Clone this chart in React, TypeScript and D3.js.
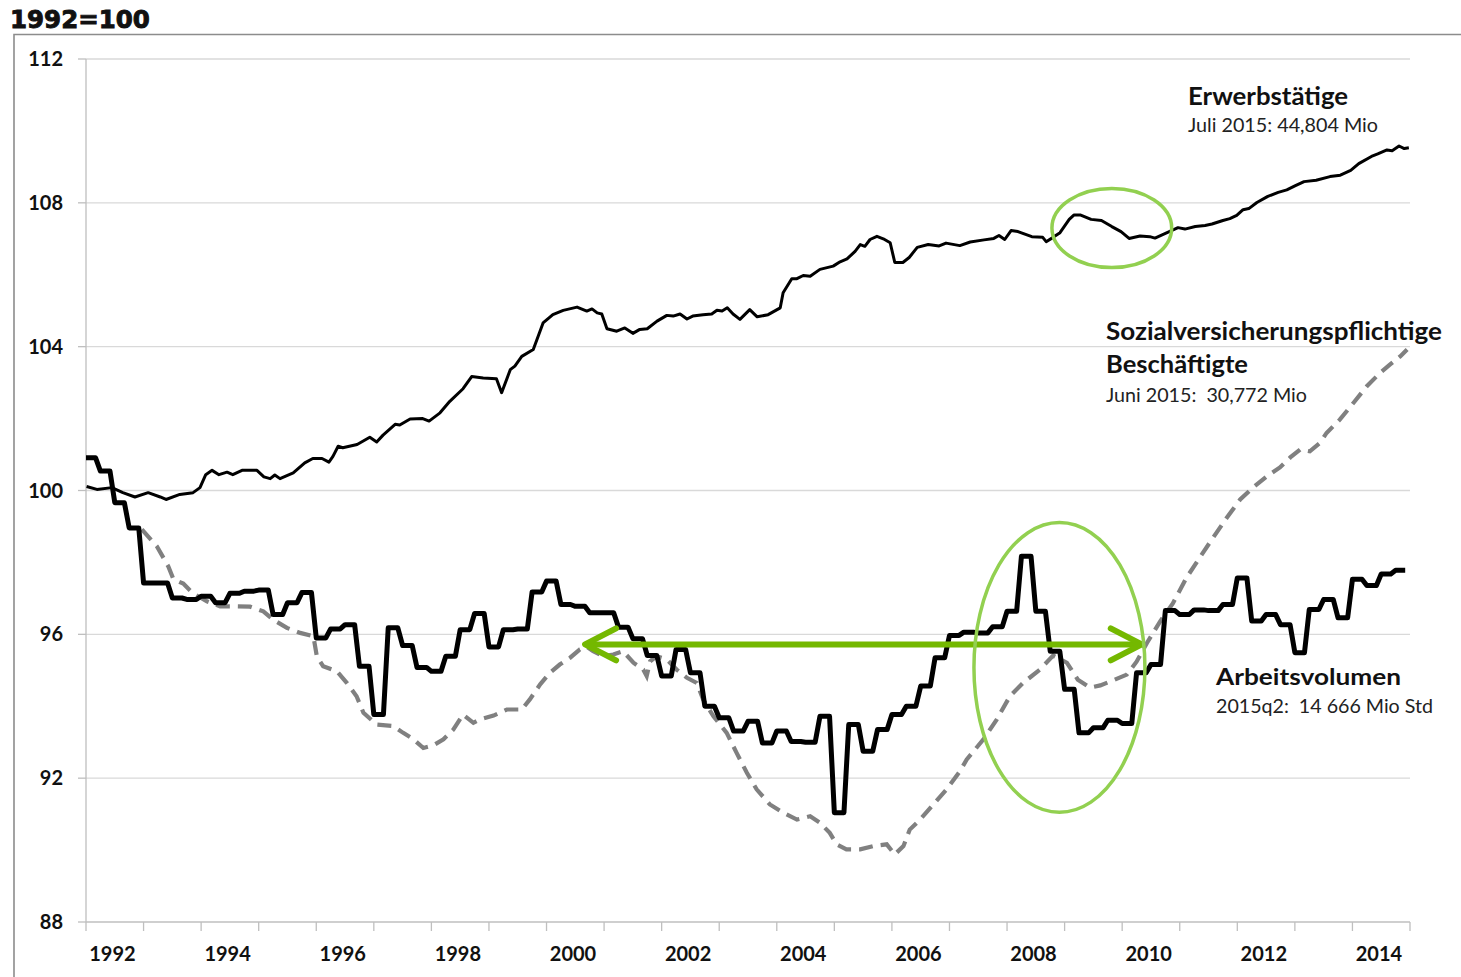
import React from "react";
import * as d3 from "d3";

const WIDTH = 1461;
const HEIGHT = 977;

// ---- axis ticks / labels ----
const yTickValues = [88, 92, 96, 100, 104, 108, 112];
const xLabelYears = [1992, 1994, 1996, 1998, 2000, 2002, 2004, 2006, 2008, 2010, 2012, 2014];
const xDomain = [1992, 2015];
const yDomain = [88, 112];

// ---- Erwerbstätige (monthly, sampled) ----
const erwYears = [
  1992.01, 1992.19, 1992.45, 1992.64, 1992.85, 1993.08, 1993.29, 1993.39, 1993.63, 1993.86,
  1993.98, 1994.08, 1994.19, 1994.31, 1994.45, 1994.55, 1994.71, 1994.97, 1995.09, 1995.2,
  1995.28, 1995.37, 1995.6, 1995.8, 1995.94, 1996.1, 1996.22, 1996.29, 1996.38, 1996.46,
  1996.71, 1996.93, 1997.05, 1997.16, 1997.37, 1997.45, 1997.63, 1997.85, 1997.96, 1998.15,
  1998.32, 1998.55, 1998.7, 1998.9, 1999.13, 1999.22, 1999.37, 1999.45, 1999.57, 1999.77,
  1999.94, 2000.11, 2000.29, 2000.53, 2000.7, 2000.79, 2000.88, 2000.96, 2001.05, 2001.22,
  2001.36, 2001.5, 2001.62, 2001.75, 2001.92, 2002.09, 2002.2, 2002.32, 2002.44, 2002.54,
  2002.72, 2002.87, 2002.96, 2003.05, 2003.14, 2003.24, 2003.36, 2003.53, 2003.66, 2003.85,
  2004.06, 2004.11, 2004.26, 2004.35, 2004.46, 2004.58, 2004.75, 2004.98, 2005.1, 2005.22,
  2005.36, 2005.45, 2005.53, 2005.62, 2005.74, 2005.85, 2005.97, 2006.05, 2006.19, 2006.3,
  2006.44, 2006.63, 2006.82, 2006.94, 2007.18, 2007.36, 2007.6, 2007.77, 2007.86, 2007.96,
  2008.07, 2008.19, 2008.43, 2008.62, 2008.68, 2008.8, 2008.92, 2009.08, 2009.16, 2009.28,
  2009.46, 2009.64, 2009.82, 2009.98, 2010.12, 2010.31, 2010.48, 2010.57, 2010.78, 2010.97,
  2011.09, 2011.27, 2011.44, 2011.56, 2011.75, 2011.87, 2011.99, 2012.1, 2012.2, 2012.34,
  2012.53, 2012.71, 2012.86, 2013.0, 2013.16, 2013.37, 2013.61, 2013.79, 2013.97, 2014.11,
  2014.33, 2014.44, 2014.6, 2014.69, 2014.81, 2014.9, 2014.98,
];
const erwValues = [
  100.11, 100.03, 100.08, 99.94, 99.82, 99.94, 99.82, 99.75, 99.89, 99.94,
  100.08, 100.44, 100.56, 100.44, 100.51, 100.44, 100.56, 100.56, 100.38, 100.33,
  100.43, 100.33, 100.49, 100.77, 100.89, 100.89, 100.79, 100.95, 101.23, 101.19,
  101.28, 101.48, 101.35, 101.54, 101.84, 101.82, 101.99, 102.0, 101.93, 102.16,
  102.48, 102.83, 103.17, 103.13, 103.11, 102.72, 103.36, 103.46, 103.73, 103.92,
  104.66, 104.89, 105.01, 105.1, 104.99, 105.05, 104.94, 104.91, 104.5, 104.43,
  104.52, 104.37, 104.48, 104.5, 104.71, 104.87, 104.85, 104.91, 104.77, 104.85,
  104.89, 104.91, 105.01, 104.99, 105.08, 104.91, 104.76, 105.03, 104.83, 104.89,
  105.08, 105.5, 105.89, 105.89, 105.98, 105.96, 106.15, 106.24, 106.36, 106.44,
  106.65, 106.84, 106.79, 106.98, 107.07, 107.0, 106.89, 106.34, 106.34, 106.48,
  106.76, 106.84, 106.8, 106.88, 106.81, 106.91, 106.97, 107.01, 107.09, 106.98,
  107.23, 107.2, 107.06, 107.04, 106.92, 107.04, 107.17, 107.54, 107.66, 107.66,
  107.54, 107.51, 107.34, 107.2, 107.01, 107.08, 107.06, 107.02, 107.17, 107.31,
  107.27, 107.34, 107.37, 107.41, 107.51, 107.56, 107.65, 107.81, 107.84, 108.01,
  108.18, 108.29, 108.36, 108.47, 108.59, 108.63, 108.73, 108.77, 108.9, 109.09,
  109.29, 109.36, 109.47, 109.45, 109.58, 109.51, 109.53,
];

// ---- Sozialversicherungspflichtige Beschäftigte ----
const svbYears = [
  1992.97, 1993.23, 1993.43, 1993.52, 1993.69, 1993.86, 1994.1, 1994.33, 1994.56, 1994.85,
  1995.08, 1995.25, 1995.49, 1995.72, 1995.95, 1996.01, 1996.12, 1996.36, 1996.53, 1996.7,
  1996.82, 1997.05, 1997.34, 1997.51, 1997.69, 1997.86, 1998.03, 1998.21, 1998.38, 1998.55,
  1998.73, 1998.84, 1999.08, 1999.31, 1999.57, 1999.71, 1999.89, 2000.06, 2000.23, 2000.41,
  2000.58, 2000.7, 2000.81, 2000.99, 2001.16, 2001.33, 2001.51, 2001.68, 2001.74, 2001.8,
  2001.91, 2002.09, 2002.26, 2002.44, 2002.61, 2002.72, 2002.9, 2003.13, 2003.3, 2003.48,
  2003.65, 2003.88, 2004.11, 2004.35, 2004.58, 2004.75, 2004.92, 2005.04, 2005.21, 2005.45,
  2005.68, 2005.91, 2006.05, 2006.2, 2006.31, 2006.49, 2006.72, 2006.95, 2007.18, 2007.3,
  2007.59, 2007.82, 2008.05, 2008.28, 2008.57, 2008.8, 2009.04, 2009.23, 2009.44, 2009.62,
  2009.84, 2010.08, 2010.25, 2010.43, 2010.66, 2010.88, 2011.12, 2011.35, 2011.58, 2011.82,
  2012.05, 2012.27, 2012.51, 2012.74, 2012.92, 2013.09, 2013.26, 2013.44, 2013.55, 2013.78,
  2014.02, 2014.25, 2014.48, 2014.65, 2014.83, 2014.95,
];
const svbValues = [
  98.92, 98.45, 97.89, 97.53, 97.41, 97.14, 96.92, 96.78, 96.78, 96.77,
  96.64, 96.41, 96.18, 96.04, 95.95, 95.39, 95.11, 94.97, 94.65, 94.28,
  93.82, 93.49, 93.45, 93.26, 93.08, 92.84, 92.91, 93.08, 93.35, 93.77,
  93.54, 93.63, 93.74, 93.91, 93.91, 94.19, 94.61, 94.93, 95.16, 95.35,
  95.58, 95.65, 95.53, 95.39, 95.44, 95.53, 95.21, 95.02, 94.84, 95.25,
  95.39, 95.3, 95.02, 94.79, 94.65, 94.19, 93.72, 93.26, 92.71, 92.15,
  91.69, 91.27, 91.04, 90.85, 90.94, 90.76, 90.48, 90.16, 90.02, 90.02,
  90.11, 90.16, 89.88, 90.11, 90.57, 90.85, 91.27, 91.69, 92.19, 92.52,
  93.08, 93.63, 94.28, 94.65, 95.02, 95.41, 95.21, 94.74, 94.52, 94.58,
  94.72, 94.88, 95.24, 95.76, 96.36, 96.86, 97.58, 98.14, 98.69, 99.25,
  99.75, 100.08, 100.39, 100.64, 100.92, 101.14, 101.09, 101.33, 101.6, 101.97,
  102.44, 102.9, 103.27, 103.5, 103.73, 103.92,
];

// ---- Arbeitsvolumen (quarterly, from 1992q1) ----
const arbeitsvolumenQ = [
  100.91, 100.54, 99.66, 98.96,
  97.43, 97.43, 97.01, 96.97,
  97.06, 96.88, 97.14, 97.2,
  97.23, 96.55, 96.88, 97.16,
  95.9, 96.15, 96.27, 95.11,
  93.77, 96.18, 95.69, 95.08,
  94.97, 95.39, 96.13, 96.58,
  95.65, 96.13, 96.15, 97.18,
  97.48, 96.83, 96.78, 96.6,
  96.6, 96.2, 95.88, 95.41,
  94.84, 95.58, 94.93, 94.0,
  93.68, 93.31, 93.58, 92.98,
  93.31, 93.02, 93.0, 93.72,
  91.04, 93.49, 92.75, 93.35,
  93.77, 94.0, 94.56, 95.35,
  95.97, 96.06, 96.04, 96.21,
  96.64, 98.17, 96.64, 95.53,
  94.47, 93.26, 93.4, 93.61,
  93.52, 94.93, 95.16, 96.66,
  96.55, 96.68, 96.66, 96.83,
  97.57, 96.37, 96.55, 96.27,
  95.49, 96.69, 96.97, 96.46,
  97.53, 97.36, 97.68, 97.78,
];
const arbeitsvolumenStart = 1992;

// ---- annotations (data coordinates) ----
const arrowFrom = 2000.67;
const arrowTo = 2010.34;
const arrowLevel = 95.72;
const ellipseCentersX = [2009.82, 2008.91];
const ellipseCentersY = [107.3, 95.08];
const ellipseRadiiX = [1.04, 1.485];
const ellipseRadiiY = [1.1, 4.03];

const FONT = "Lato, 'Open Sans', sans-serif";

export default function App() {
  const x = d3.scaleLinear().domain(xDomain).range([86, 1410]);
  const y = d3.scaleLinear().domain(yDomain).range([922, 59]);
  const line = d3
    .line<[number, number]>()
    .x((d) => x(d[0]))
    .y((d) => y(d[1]));

  const erwPts = erwYears.map((t, i) => [t, erwValues[i]] as [number, number]);
  const svbPts = svbYears.map((t, i) => [t, svbValues[i]] as [number, number]);
  const avPts: [number, number][] = arbeitsvolumenQ.flatMap((v, k) =>
    [0, 1, 2].map((m) => [arbeitsvolumenStart + (3 * k + m) / 12, v] as [number, number])
  );

  const yearTicks = d3.range(xDomain[0], xDomain[1] + 1);
  const green = "#74b800";
  const ellGreen = "#92d050";
  const ax1 = x(arrowFrom);
  const ax2 = x(arrowTo);
  const ay = y(arrowLevel);

  return (
    <svg
      width={WIDTH}
      height={HEIGHT}
      style={{ position: "absolute", left: 0, top: 0, display: "block", background: "#fff" }}
    >
      <rect x={0} y={0} width={WIDTH} height={HEIGHT} fill="#fff" />
      {/* frame */}
      <path d={`M14,${HEIGHT + 2} V34.5 H${WIDTH + 2}`} fill="none" stroke="#8c8c8c" strokeWidth={1.6} />
      <text
        x={10}
        y={28}
        fontFamily="'DejaVu Sans', sans-serif"
        fontWeight="bold"
        fontSize={24.5}
        fill="#111"
        stroke="#111"
        strokeWidth={0.9}
      >
        1992=100
      </text>

      {/* gridlines */}
      {yTickValues
        .filter((v) => v !== yDomain[0])
        .map((v) => (
          <line key={"g" + v} x1={x(xDomain[0])} x2={x(xDomain[1])} y1={y(v)} y2={y(v)} stroke="#d9d9d9" strokeWidth={1.3} />
        ))}
      {/* y axis */}
      <line x1={x(xDomain[0])} x2={x(xDomain[0])} y1={y(yDomain[1])} y2={y(yDomain[0])} stroke="#bfbfbf" strokeWidth={1.3} />
      {yTickValues.map((v) => (
        <g key={"yt" + v}>
          <line x1={x(xDomain[0]) - 8} x2={x(xDomain[0])} y1={y(v)} y2={y(v)} stroke="#bfbfbf" strokeWidth={1.3} />
          <text x={63} y={y(v) + 7} textAnchor="end" fontFamily={FONT} fontWeight="bold" fontSize={20} fill="#111">
            {v}
          </text>
        </g>
      ))}
      {/* x axis */}
      <line x1={x(xDomain[0])} x2={x(xDomain[1])} y1={y(yDomain[0])} y2={y(yDomain[0])} stroke="#bfbfbf" strokeWidth={1.3} />
      {yearTicks.map((t) => (
        <line key={"xt" + t} x1={x(t)} x2={x(t)} y1={y(yDomain[0])} y2={y(yDomain[0]) + 9} stroke="#bfbfbf" strokeWidth={1.3} />
      ))}
      {xLabelYears.map((t) => (
        <text key={"xl" + t} x={x(t + 0.46)} y={961} textAnchor="middle" fontFamily={FONT} fontWeight="bold" fontSize={20} fill="#111">
          {t}
        </text>
      ))}

      {/* series */}
      <path d={line(svbPts) || ""} fill="none" stroke="#808080" strokeWidth={4.2} strokeDasharray="14 8" />
      <path d={line(erwPts) || ""} fill="none" stroke="#000" strokeWidth={3} strokeLinejoin="round" />
      <path d={line(avPts) || ""} fill="none" stroke="#000" strokeWidth={5} strokeLinejoin="round" />

      {/* arrow */}
      <g stroke={green} strokeWidth={6} fill="none" strokeLinecap="round" strokeLinejoin="round">
        <line x1={ax1 + 2} x2={ax2 - 2} y1={ay} y2={ay} />
        <path d={`M${ax1 + 31},${ay - 16} L${ax1},${ay} L${ax1 + 31},${ay + 16}`} />
        <path d={`M${ax2 - 31},${ay - 16} L${ax2},${ay} L${ax2 - 31},${ay + 16}`} />
      </g>
      {/* ellipses */}
      {ellipseCentersX.map((cx, i) => (
        <ellipse
          key={"e" + i}
          cx={x(cx)}
          cy={y(ellipseCentersY[i])}
          rx={x(cx + ellipseRadiiX[i]) - x(cx)}
          ry={y(ellipseCentersY[i] - ellipseRadiiY[i]) - y(ellipseCentersY[i])}
          fill="none"
          stroke={ellGreen}
          strokeWidth={3.5}
        />
      ))}

      {/* labels */}
      <g fontFamily={FONT} fill="#111">
        <text x={1188} y={105} fontWeight="bold" fontSize={24} textLength={160} lengthAdjust="spacingAndGlyphs">Erwerbstätige</text>
        <text x={1188} y={132} fontSize={19} fill="#222" textLength={190} lengthAdjust="spacingAndGlyphs">Juli 2015: 44,804 Mio</text>
        <text x={1106} y={340} fontWeight="bold" fontSize={24} textLength={336} lengthAdjust="spacingAndGlyphs">Sozialversicherungspflichtige</text>
        <text x={1106} y={373} fontWeight="bold" fontSize={24} textLength={142} lengthAdjust="spacingAndGlyphs">Beschäftigte</text>
        <text x={1106} y={402} fontSize={19} fill="#222" textLength={201} lengthAdjust="spacingAndGlyphs" xmlSpace="preserve">Juni 2015:  30,772 Mio</text>
        <text x={1216} y={685} fontWeight="bold" fontSize={23} textLength={185} lengthAdjust="spacingAndGlyphs">Arbeitsvolumen</text>
        <text x={1216} y={713} fontSize={19} fill="#222" textLength={217} lengthAdjust="spacingAndGlyphs" xmlSpace="preserve">2015q2:  14 666 Mio Std</text>
      </g>
    </svg>
  );
}
